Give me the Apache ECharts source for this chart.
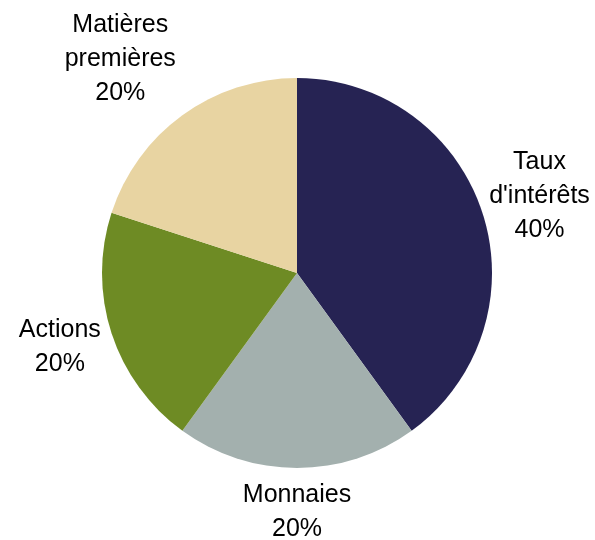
<!DOCTYPE html>
<html>
<head>
<meta charset="utf-8">
<script src="https://cdn.jsdelivr.net/npm/echarts@6/dist/echarts.min.js"></script>
<style>
  html, body { margin: 0; padding: 0; background: #ffffff; }
  #chart { width: 595px; height: 540px; }
</style>
</head>
<body>
<div id="chart"></div>
<script>
// Portfolio breakdown by asset class
const categories = ["Taux\nd'intérêts", "Monnaies", "Actions", "Matières\npremières"];
const shares = [40, 20, 20, 20];
const colors = ['#262353', '#a3b0ae', '#6e8b24', '#e8d4a2'];

// label placement: distance from the centre and angular nudge (degrees) per slice
const labelDistance = [255, 237, 248, 279];
const labelAngleShift = [0, 0, 1, -3.3];
const labelBaselineShift = 2;

const center = [297, 273];
const radius = 195;

const total = shares.reduce((a, b) => a + b, 0);
const midAngles = [];
let acc = 0;
shares.forEach(v => {
  midAngles.push((acc + v / 2) / total * 360);
  acc += v;
});

const chart = echarts.init(document.getElementById('chart'), null, { renderer: 'canvas' });
chart.setOption({
  animation: false,
  series: [{
    type: 'pie',
    center: center,
    radius: radius,
    startAngle: 90,
    clockwise: true,
    silent: true,
    emphasis: { disabled: true },
    data: categories.map((name, i) => ({
      name: name,
      value: shares[i],
      itemStyle: { color: colors[i] }
    })),
    label: {
      show: true,
      position: 'outside',
      formatter: '{b}\n{d}%',
      fontFamily: 'Liberation Sans, Arial, sans-serif',
      fontSize: 25,
      lineHeight: 34,
      color: '#000000',
      align: 'center',
      overflow: 'none',
      width: 180
    },
    labelLine: { show: false },
    labelLayout: function (params) {
      const i = params.dataIndex;
      const a = (midAngles[i] + labelAngleShift[i]) * Math.PI / 180;
      const d = labelDistance[i];
      return {
        x: center[0] + d * Math.sin(a),
        y: center[1] - d * Math.cos(a) + labelBaselineShift,
        align: 'center',
        verticalAlign: 'middle'
      };
    }
  }]
});
</script>
</body>
</html>
